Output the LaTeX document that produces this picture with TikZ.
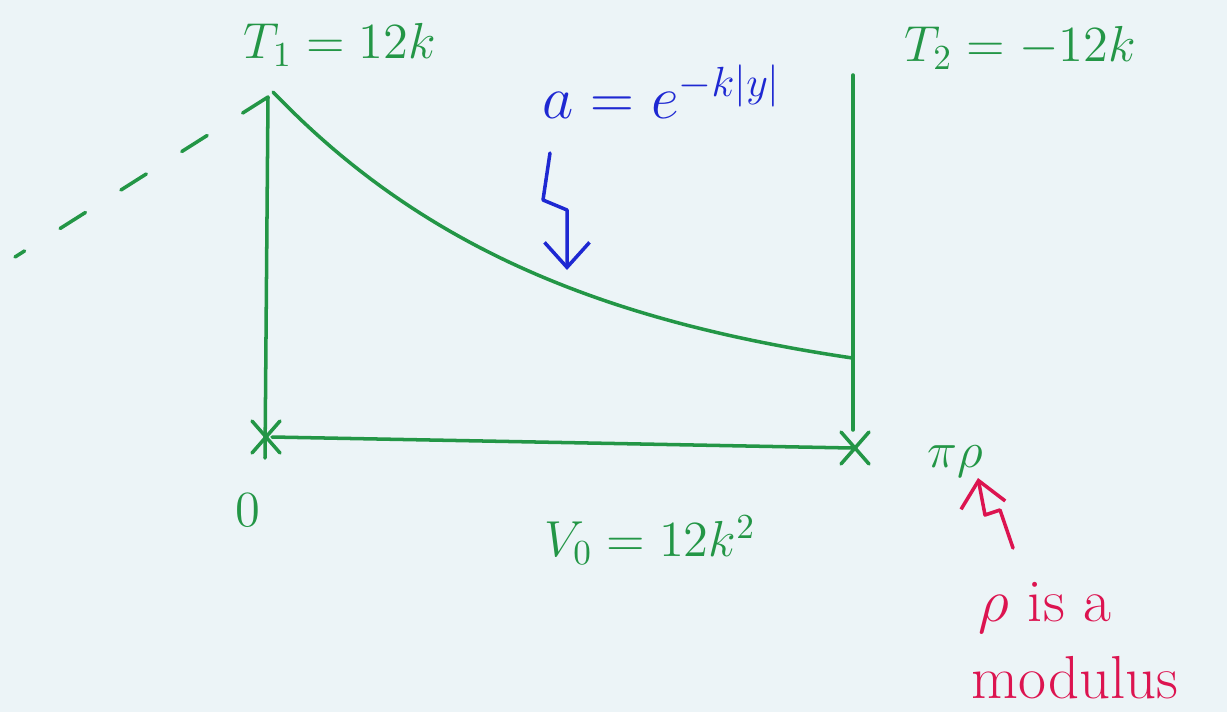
\documentclass[tikz,border=0pt]{standalone}
\usepackage{amsmath}
\usepackage{amssymb}
\usepackage{xcolor}
\usetikzlibrary{arrows.meta, calc}

\definecolor{pen}{RGB}{35,150,70}
\definecolor{bluepen}{RGB}{30,40,210}
\definecolor{redpen}{RGB}{220,20,80}
\definecolor{paper}{RGB}{236,244,247}

\begin{document}
\begin{tikzpicture}[line width=1pt, line cap=round, line join=round]
\fill[paper] (0,0) rectangle (12.27,7.12);
\useasboundingbox (0,0) rectangle (12.27,7.12);

%points
  \coordinate (P0) at (2.68,6.15);
  \coordinate (Q0) at (2.65,2.54);
  \coordinate (X0) at (2.66,2.75);
  \coordinate (P1) at (8.53,6.37);
  \coordinate (Q1) at (8.53,2.82);
  \coordinate (X1) at (8.55,2.64);
  \coordinate (H0) at (2.72,2.75);
  \coordinate (H1) at (8.52,2.64);
  \coordinate (D0) at (0.15,4.55);

%branes and interval
  \draw[pen] (P0) -- (Q0);
  \draw[pen] (P1) -- (Q1);
  \draw[pen] (H0) -- (H1);
  \draw[pen, dash pattern=on 0.3cm off 0.42cm] (P0) -- (D0);

%crosses
  \foreach \i in {0,1}{
    \draw[pen] ($(X\i)+(-0.14,-0.16)$) -- ($(X\i)+(0.14,0.16)$);
    \draw[pen] ($(X\i)+(-0.14,0.16)$) -- ($(X\i)+(0.14,-0.16)$);
  }

%warp factor
  \draw[pen] plot[domain=2.73:8.53, samples=60]
    (\x,{3.1+3.1*exp(-0.337*(\x-2.73))});

%labels
  \node[pen, font=\Large] (T1) at (3.40,6.67) {$T_1 = 12k$};
  \node[pen, font=\Large] (T2) at (10.20,6.64) {$T_2 = -12k$};
  \node[bluepen, font=\LARGE] (warp) at (6.62,6.20) {$a = e^{-k|y|}$};
  \node[pen, font=\Large] (zero) at (2.48,2.02) {$0$};
  \node[pen, font=\Large] (pot) at (6.50,1.72) {$V_0 = 12k^2$};
  \node[pen, font=\Large] (end) at (9.55,2.50) {$\pi\rho$};
  \node[redpen, font=\LARGE] (rho) at (10.45,1.04) {$\rho$ is a};
  \node[redpen, font=\LARGE] (mod) at (10.75,0.34) {modulus};

%arrows
  \coordinate (b0) at (5.50,5.59);
  \coordinate (b1) at (5.67,4.42);
  \draw[bluepen, -{Straight Barb[length=2.5mm, width=4.5mm]}]
    (b0) -- (5.43,5.12) -- (5.67,5.02) -- (b1);
  \coordinate (r0) at (10.13,1.64);
  \coordinate (r1) at (9.78,2.34);
  \draw[redpen, -{Straight Barb[length=2.5mm, width=4.5mm]}]
    (r0) -- (10.00,2.02) -- (9.85,1.97) -- (r1);
\end{tikzpicture}
\end{document}
